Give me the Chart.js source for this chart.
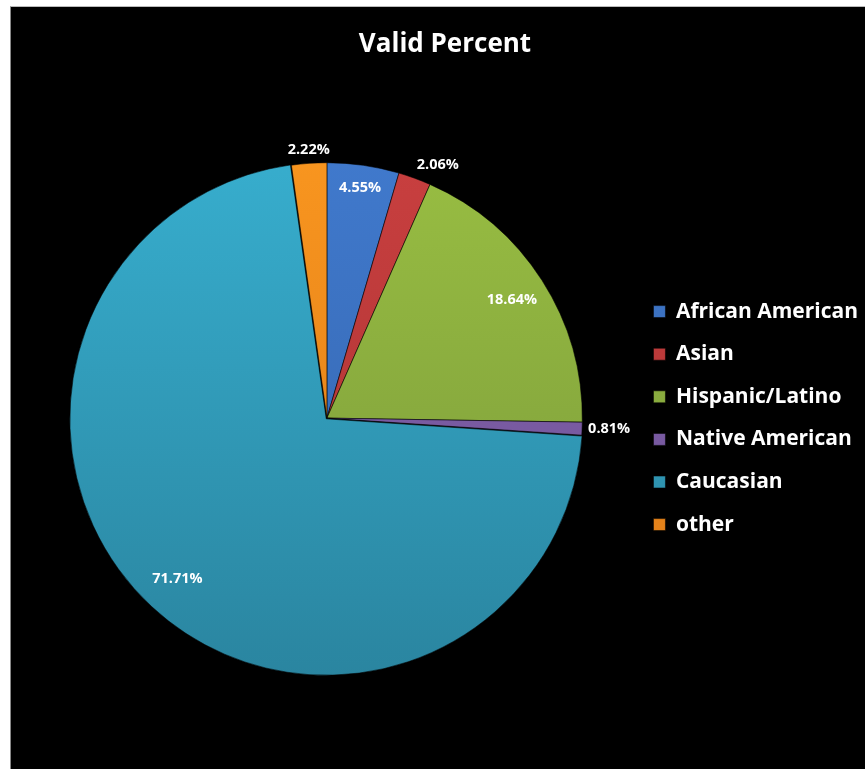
<!DOCTYPE html>
<html>
<head>
<meta charset="utf-8">
<script src="https://cdn.jsdelivr.net/npm/chart.js@4.4.1/dist/chart.umd.min.js"></script>
<style>
  html, body { margin: 0; padding: 0; background: #fff; }
  #wrap {
    position: absolute; left: 10px; top: 6px; right: 0; bottom: 0;
    background: #000; border-left: 1px solid #888; border-top: 1px solid #bbb;
  }
</style>
</head>
<body>
<div id="wrap"><canvas id="myChart"></canvas></div>
<script>
var labels = ['African American', 'Asian', 'Hispanic/Latino', 'Native American', 'Caucasian', 'other'];
var percents = [4.55, 2.06, 18.64, 0.81, 71.71, 2.22];
var topColors = ['#4079cc', '#c83f3f', '#98bd42', '#8463ad', '#37adcd', '#f8951f'];
var bottomColors = ['#3363ab', '#a83232', '#79983a', '#6e5296', '#2a85a0', '#dc7a18'];

var sliceFill = function(context) {
  var chart = context.chart;
  var area = chart.chartArea;
  if (!area) return topColors[context.dataIndex];
  var g = chart.ctx.createLinearGradient(0, area.top, 0, area.bottom);
  g.addColorStop(0, topColors[context.dataIndex]);
  g.addColorStop(1, bottomColors[context.dataIndex]);
  return g;
};

// percent labels: inside for big slices, outside for the thin ones
var pctLabels = {
  id: 'pctLabels',
  afterDatasetsDraw: function(chart) {
    var ctx = chart.ctx;
    var arcs = chart.getDatasetMeta(0).data;
    ctx.save();
    ctx.font = 'bold 14.5px "Open Sans", sans-serif';
    ctx.fillStyle = '#fff';
    arcs.forEach(function(arc, i) {
      var p = arc.getProps(['x', 'y', 'startAngle', 'endAngle', 'outerRadius'], true);
      var mid = (p.startAngle + p.endAngle) / 2;
      var cos = Math.cos(mid), sin = Math.sin(mid);
      var text = percents[i].toFixed(2) + '%';
      if (percents[i] > 3) {
        var r = p.outerRadius * (percents[i] > 10 ? 0.86 : 0.91);
        ctx.textAlign = 'center';
        ctx.textBaseline = 'middle';
        ctx.fillText(text, p.x + cos * r, p.y + sin * r);
      } else {
        var ro = p.outerRadius + 6;
        ctx.textAlign = cos > 0.3 ? 'left' : (cos < -0.3 ? 'right' : 'center');
        ctx.textBaseline = sin < -0.3 ? 'bottom' : (sin > 0.3 ? 'top' : 'middle');
        ctx.fillText(text, p.x + cos * ro, p.y + sin * ro);
      }
    });
    ctx.restore();
  }
};

var ctx = document.getElementById('myChart');
var myChart = new Chart(ctx, {
  type: 'pie',
  data: {
    labels: labels,
    datasets: [{
      data: percents,
      backgroundColor: sliceFill,
      borderColor: 'rgba(0,0,0,0.55)',
      borderWidth: 1,
      offset: [0, 0, 0, 0, 4, 0]
    }]
  },
  options: {
    responsive: true,
    maintainAspectRatio: false,
    animation: false,
    layout: { padding: { left: 11, right: -3, top: 0, bottom: 93 } },
    plugins: {
      title: {
        display: true,
        text: 'Valid Percent',
        color: '#fff',
        font: { family: '"Open Sans", sans-serif', size: 26, weight: 'bold' },
        padding: { top: 22, bottom: 100 }
      },
      legend: {
        position: 'right',
        fullSize: false,
        labels: {
          color: '#fff',
          boxWidth: 12,
          boxHeight: 12,
          padding: 21.6,
          font: { family: '"Open Sans", sans-serif', size: 21, weight: 'bold' }
        }
      },
      tooltip: { enabled: false }
    }
  },
  plugins: [pctLabels]
});
</script>
</body>
</html>
